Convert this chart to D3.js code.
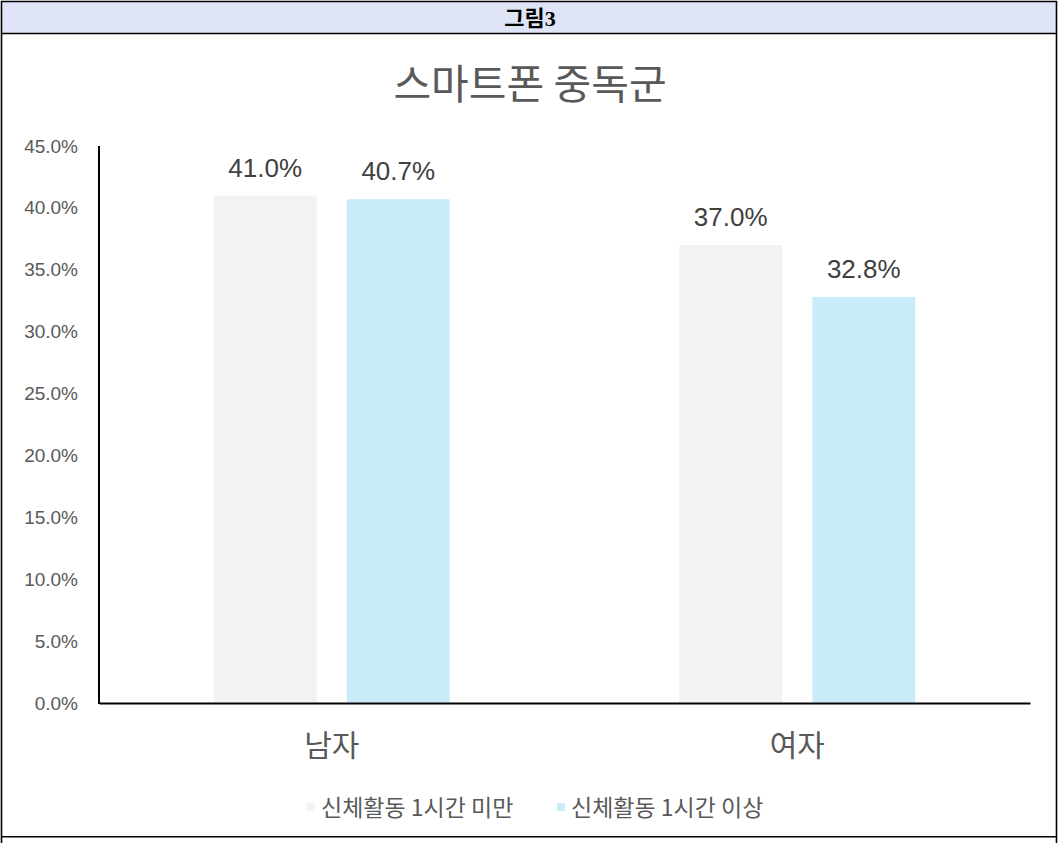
<!DOCTYPE html>
<html>
<head>
<meta charset="utf-8">
<script src="https://cdn.jsdelivr.net/npm/d3@7"></script>
<style>
  html, body { margin: 0; padding: 0; background: #fff; }
  svg { display: block; }
</style>
</head>
<body>
<svg id="chart" width="1059" height="843"></svg>
<script>
const headerText = "그림3";
const chartTitle = "스마트폰 중독군";
const categories = ["남자", "여자"];
const seriesNames = ["신체활동 1시간 미만", "신체활동 1시간 이상"];
const seriesLess = [41.0, 37.0];
const seriesMore = [40.7, 32.8];
const yTicks = [0, 5, 10, 15, 20, 25, 30, 35, 40, 45];
const colors = ["#f2f2f2", "#caecfa"];

const seriesValues = [seriesLess, seriesMore];
const data = categories.map((c, i) => ({
  cat: c,
  vals: seriesNames.map((s, j) => ({ series: s, idx: j, value: seriesValues[j][i] }))
}));

const svg = d3.select("#chart");
const numFont = "'Liberation Sans', 'Noto Sans CJK KR', sans-serif";
const korFont = "'Noto Sans CJK KR', 'Liberation Sans', sans-serif";

// table frame
svg.append("rect").attr("x", 1).attr("y", 1).attr("width", 1056).attr("height", 32)
  .attr("fill", "#dfe5f7");
svg.append("text").attr("x", 530).attr("y", 26).attr("text-anchor", "middle")
  .attr("font-family", "'Liberation Serif', 'Noto Sans CJK KR', serif")
  .attr("font-weight", "bold").attr("font-size", 22).attr("fill", "#000")
  .text(headerText);
const frame = svg.append("g").attr("stroke", "#000").attr("stroke-width", 1.6).attr("fill", "none");
frame.append("line").attr("x1", 1).attr("x2", 1057).attr("y1", 1.5).attr("y2", 1.5);
frame.append("line").attr("x1", 1).attr("x2", 1057).attr("y1", 33.5).attr("y2", 33.5);
frame.append("line").attr("x1", 1).attr("x2", 1057).attr("y1", 836.8).attr("y2", 836.8);
frame.append("line").attr("x1", 1.5).attr("x2", 1.5).attr("y1", 1).attr("y2", 843);
frame.append("line").attr("x1", 1056.5).attr("x2", 1056.5).attr("y1", 1).attr("y2", 843);

// title
svg.append("text").attr("x", 530).attr("y", 99).attr("text-anchor", "middle")
  .attr("font-family", korFont).attr("font-size", 41).attr("fill", "#595959")
  .text(chartTitle);

// scales
const plotLeft = 99, plotRight = 1030, plotTop = 146, plotBottom = 703;
const y = d3.scaleLinear().domain([0, 45]).range([plotBottom, plotTop]);
const x0 = d3.scaleBand().domain(categories).range([plotLeft, plotRight])
  .paddingInner(0.493).paddingOuter(0.2465);
const x1 = d3.scaleBand().domain(seriesNames).range([0, x0.bandwidth()])
  .paddingInner(0.226).paddingOuter(0);

// y axis labels
const yAxis = d3.axisLeft(y).tickValues(yTicks).tickFormat(d => d.toFixed(1) + "%").tickSize(0).tickPadding(21);
const yg = svg.append("g").attr("transform", `translate(${plotLeft},0)`).call(yAxis);
yg.select(".domain").remove();
yg.selectAll("text").attr("font-family", numFont).attr("font-size", 19).attr("fill", "#595959");

// bars
const groups = svg.append("g").selectAll("g").data(data).join("g")
  .attr("transform", d => `translate(${x0(d.cat)},0)`);
groups.selectAll("rect").data(d => d.vals).join("rect")
  .attr("x", d => x1(d.series)).attr("width", x1.bandwidth())
  .attr("y", d => y(d.value)).attr("height", d => y(0) - y(d.value))
  .attr("fill", d => colors[d.idx]);
groups.selectAll("text").data(d => d.vals).join("text")
  .attr("x", d => x1(d.series) + x1.bandwidth() / 2)
  .attr("y", d => y(d.value) - 19)
  .attr("text-anchor", "middle").attr("font-family", numFont).attr("font-size", 26)
  .attr("fill", "#404040").text(d => d.value.toFixed(1) + "%");

// axis lines
svg.append("line").attr("x1", plotLeft).attr("x2", plotLeft).attr("y1", plotTop).attr("y2", plotBottom + 1)
  .attr("stroke", "#000").attr("stroke-width", 2);
const xAxis = d3.axisBottom(x0).tickSize(0).tickPadding(32);
const xg = svg.append("g").attr("transform", `translate(0,${plotBottom})`).call(xAxis);
xg.select(".domain").attr("stroke", "#000").attr("stroke-width", 2);
xg.selectAll("text").attr("font-family", korFont).attr("font-size", 30).attr("fill", "#595959");

// legend
const legendItems = [{ x: 307, tx: 321 }, { x: 557, tx: 571 }];
const lg = svg.append("g");
seriesNames.forEach((s, i) => {
  lg.append("rect").attr("x", legendItems[i].x).attr("y", 803).attr("width", 8).attr("height", 8)
    .attr("fill", colors[i]);
  lg.append("text").attr("x", legendItems[i].tx).attr("y", 816)
    .attr("font-family", korFont).attr("font-size", 23).attr("fill", "#595959").text(s);
});
</script>
</body>
</html>
